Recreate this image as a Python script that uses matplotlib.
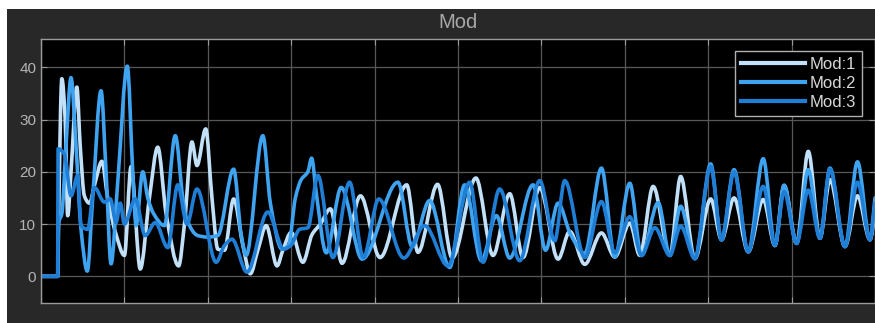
import matplotlib
matplotlib.use("Agg")
import matplotlib.pyplot as plt
from matplotlib.patches import Rectangle, PathPatch
from matplotlib.path import Path
from matplotlib.lines import Line2D

# ---- data (time, value) ----
mod1 = [(0, 0), (0.2, 0), (0.21, 10), (0.25, 37.8), (0.29, 30), (0.32, 11.6), (0.36, 20),
        (0.43, 36.2), (0.47, 25), (0.52, 15.4), (0.58, 14), (0.65, 18), (0.73, 22), (0.8, 15),
        (0.9, 8), (1.0, 4), (1.08, 21), (1.19, 1.4), (1.3, 15), (1.40, 24.7), (1.5, 12),
        (1.65, 2), (1.72, 10), (1.81, 25.7), (1.87, 21.2), (1.975, 28.2), (2.05, 15), (2.12, 5.2),
        (2.2, 5), (2.31, 14.8), (2.42, 6), (2.51, 0.5), (2.6, 5), (2.7, 9.7), (2.83, 2), (2.9, 5),
        (3.0, 8.4), (3.14, 2.7), (3.25, 8), (3.35, 10), (3.47, 12.9), (3.61, 2.5), (3.83, 15.4),
        (4.065, 3.6), (4.385, 17.5), (4.52, 4.6), (4.755, 17.6), (4.93, 3.5), (5.215, 18.8),
        (5.42, 4), (5.62, 15.8), (5.78, 3.6), (5.98, 17), (6.2, 3.3), (6.34, 8.6), (6.52, 2.3),
        (6.72, 8.3), (6.88, 3.7), (7.06, 10.2), (7.18, 4), (7.34, 17.2), (7.54, 4), (7.67, 19.1),
        (7.84, 3.4), (8.03, 14.8), (8.16, 7), (8.31, 15), (8.48, 4.7), (8.66, 14.7), (8.8, 5.9),
        (8.91, 17.4), (9.06, 6.3), (9.2, 23.9), (9.34, 7.3), (9.46, 18.5), (9.64, 5.7),
        (9.79, 15.4), (9.94, 7), (10.0, 12)]

mod2 = [(0, 0), (0.2, 0), (0.21, 10), (0.25, 12), (0.3, 25), (0.36, 38), (0.42, 25), (0.48, 9),
        (0.555, 1), (0.62, 15), (0.72, 35.5), (0.78, 20), (0.84, 2.4), (0.92, 18), (1.035, 40.2),
        (1.1, 20), (1.14, 9.7), (1.22, 20), (1.28, 15), (1.35, 12), (1.48, 9.7), (1.61, 26.9),
        (1.7, 15), (1.74, 11.3), (1.88, 7.8), (2.0, 7.5), (2.12, 7.8), (2.31, 20.5), (2.4, 8),
        (2.46, 4), (2.66, 26.9), (2.75, 14), (2.89, 5.2), (2.97, 6), (3.05, 15), (3.12, 18.5),
        (3.2, 20), (3.245, 22.6), (3.3, 16), (3.42, 4.5), (3.6, 17), (3.85, 3.3), (4.28, 18),
        (4.45, 5.7), (4.66, 14.5), (4.9, 1.7), (5.08, 17.5), (5.28, 3), (5.46, 11.6), (5.62, 3.5),
        (5.9, 17.5), (6.05, 5), (6.2, 14), (6.35, 8), (6.52, 4.4), (6.72, 20.7), (6.88, 3.7),
        (7.06, 17.8), (7.2, 4), (7.4, 14.1), (7.54, 4), (7.67, 13.4), (7.84, 3.4), (8.03, 21.5),
        (8.16, 7), (8.31, 20.4), (8.48, 4.7), (8.66, 22.5), (8.8, 5.9), (8.91, 17.4), (9.06, 6.3),
        (9.2, 20.4), (9.34, 7.3), (9.46, 20.7), (9.64, 5.7), (9.79, 21.9), (9.94, 7), (10.0, 15)]

mod3 = [(0, 0), (0.2, 0), (0.205, 24.4), (0.28, 23.4), (0.36, 15.4), (0.44, 19.3), (0.48, 9.7),
        (0.56, 9), (0.64, 17), (0.76, 14.2), (0.83, 14.8), (0.9, 10.3), (0.95, 14), (1.0, 10),
        (1.13, 14.8), (1.25, 7.8), (1.37, 10.3), (1.52, 5.5), (1.64, 17.5), (1.75, 10), (1.87, 16.7),
        (2.1, 2.7), (2.2, 5.9), (2.29, 7.1), (2.47, 0.8), (2.72, 12.3), (2.91, 5.2), (3.0, 6),
        (3.1, 9), (3.2, 9.3), (3.32, 19.3), (3.5, 3.6), (3.7, 18), (3.865, 3.6), (4.05, 14.8),
        (4.35, 3.5), (4.6, 9.7), (4.88, 2), (5.14, 18), (5.3, 2.7), (5.5, 16.7), (5.74, 3),
        (5.98, 18.3), (6.16, 6.8), (6.28, 18.3), (6.52, 3.6), (6.72, 14.3), (6.88, 4.5),
        (7.06, 11.4), (7.2, 4), (7.36, 9.3), (7.54, 4), (7.67, 9.6), (7.84, 3.4), (8.03, 21),
        (8.16, 7), (8.31, 20), (8.48, 4.7), (8.66, 17.2), (8.8, 6), (8.91, 16.2), (9.06, 6.3),
        (9.2, 16.5), (9.34, 7.3), (9.46, 20.5), (9.64, 5.7), (9.79, 18), (9.94, 7), (10.0, 14)]

series_labels = ["Mod:1", "Mod:2", "Mod:3"]
y_ticks = [0, 10, 20, 30, 40]
x_ticks = list(range(0, 11))
title = "Mod"

colors = ["#c2e1f8", "#3ea3f0", "#1f7fd6"]
LW = 2.6


def smooth_path(data):
    """Bezier path through the read points (monotone cubic tangents, flat at extrema)."""
    xs = [p[0] for p in data]
    ys = [p[1] for p in data]
    n = len(xs)
    h = [xs[i + 1] - xs[i] for i in range(n - 1)]
    d = [(ys[i + 1] - ys[i]) / h[i] for i in range(n - 1)]
    m = [0.0] * n
    m[0], m[-1] = d[0], d[-1]
    for k in range(1, n - 1):
        if d[k - 1] * d[k] <= 0:
            m[k] = 0.0
        else:
            w1 = 2 * h[k] + h[k - 1]
            w2 = h[k] + 2 * h[k - 1]
            m[k] = (w1 + w2) / (w1 / d[k - 1] + w2 / d[k])
    verts = [(xs[0], ys[0])]
    codes = [Path.MOVETO]
    for i in range(n - 1):
        verts += [(xs[i] + h[i] / 3, ys[i] + m[i] * h[i] / 3),
                  (xs[i + 1] - h[i] / 3, ys[i + 1] - m[i + 1] * h[i] / 3),
                  (xs[i + 1], ys[i + 1])]
        codes += [Path.CURVE4] * 3
    return Path(verts, codes)


plt.rcParams['font.family'] = ['Liberation Sans', 'DejaVu Sans']

W, H = 875, 323
fig = plt.figure(figsize=(W / 100, H / 100), dpi=100, facecolor="white")
panel = Rectangle((7 / W, 0), 1 - 7 / W, 1 - 9 / H, transform=fig.transFigure,
                  facecolor="#282828", edgecolor="none", zorder=-10)
fig.add_artist(panel)

ax = fig.add_axes([41 / W, 20 / H, 834 / W, 264 / H])
ax.set_zorder(1)
ax.set_facecolor("black")

handles = []
for data, c, lab in zip([mod1, mod2, mod3], colors, series_labels):
    patch = PathPatch(smooth_path(data), transform=ax.transData, facecolor="none",
                      edgecolor=c, lw=LW, joinstyle="round", capstyle="round", zorder=2)
    ax.add_patch(patch)
    handles.append(Line2D([], [], color=c, lw=3, label=lab))

ax.set_xlim(0, 10)
ax.set_ylim(-5.1, 45.4)
ax.set_xticks(x_ticks)
ax.set_yticks(y_ticks)
ax.grid(True, color="#585858", lw=0.9)
ax.set_axisbelow(True)
ax.tick_params(direction="in", right=True, top=True, labelbottom=False,
               colors="#9a9a9a", labelcolor="#b4b4b4", labelsize=11, length=4)
for s in ax.spines.values():
    s.set_color("#9a9a9a")
    s.set_linewidth(1.0)

fig.text((41 + 875) / 2 / W, 1 - 23 / H, title, ha="center", va="center",
         color="#a8a8a8", fontsize=14.5)

leg = ax.legend(handles=handles, loc="upper right", bbox_to_anchor=(862 / W, 1 - 51 / H),
                bbox_transform=fig.transFigure, facecolor="black", edgecolor="#b0b0b0",
                fontsize=12, handlelength=3.85, handletextpad=0.3, borderpad=0.35,
                labelspacing=0.25, framealpha=1, fancybox=False, borderaxespad=0)
leg.set_zorder(5)
for txt in leg.get_texts():
    txt.set_color("#d8d8d8")

fig.savefig("out.png", dpi=100, facecolor=fig.get_facecolor())
